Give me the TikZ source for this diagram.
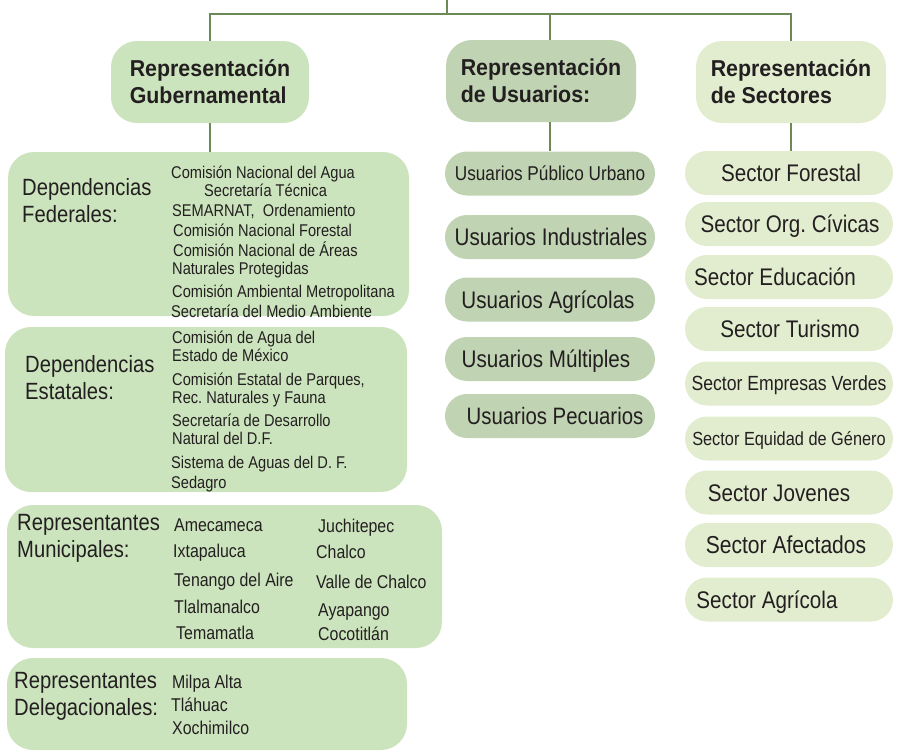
\documentclass[tikz,border=0pt]{standalone}
\usepackage{fontspec}
\setmainfont[FakeStretch=0.86]{Liberation Sans}
\newfontfamily\headfont[FakeStretch=0.93]{Liberation Sans}
\frenchspacing
\definecolor{gubgreen}{HTML}{CCE4BD}
\definecolor{usugreen}{HTML}{C0D3B3}
\definecolor{secgreen}{HTML}{E2EDD0}
\definecolor{linkgreen}{HTML}{6B8A55}
\definecolor{ink}{HTML}{231F20}

\begin{document}
\begin{tikzpicture}[x=1pt,y=-1pt,
  every node/.style={text=ink,inner sep=0pt},
  link/.style={draw=linkgreen,line width=2.7pt},
  headbox/.style={rounded corners=26pt,minimum width=190pt,minimum height=82pt,align=left,
    font=\headfont\bfseries\fontsize{23}{27}\selectfont},
  groupbox/.style={fill=gubgreen,rounded corners=26pt},
  grouplabel/.style={anchor=west,align=left,font=\fontsize{23.5}{27}\selectfont},
  item/.style={anchor=base west,font=\fontsize{17}{20}\selectfont},
  bigitem/.style={anchor=base west,font=\fontsize{18.5}{22}\selectfont},
  usupill/.style={fill=usugreen,rounded corners=22pt,minimum width=210pt,minimum height=44pt},
  secpill/.style={fill=secgreen,rounded corners=22pt,minimum width=208pt,minimum height=44pt}]
  \clip (0,0) rectangle (902,750);

  % heads
  \node[headbox,fill=gubgreen,minimum width=198pt] (gub) at (210,82) {Representación\\Gubernamental};
  \node[headbox,fill=usugreen] (usuhead) at (541,81) {Representación\\de Usuarios:};
  \node[headbox,fill=secgreen] (sechead) at (791,82) {Representación\\de Sectores};

  % gubernamental groups
  \node[groupbox,minimum width=401pt,minimum height=164pt] (fed) at (208.5,234) {};
  \node[groupbox,minimum width=402pt,minimum height=165pt] (est) at (206,409.5) {};
  \node[groupbox,minimum width=435pt,minimum height=143pt] (mun) at (224.5,576.5) {};
  \node[groupbox,minimum width=400pt,minimum height=92pt] (del) at (207,704) {};

  \node[grouplabel] (fedlabel) at (22,201) {Dependencias\\Federales:};
  \node[grouplabel] (estlabel) at (25,378) {Dependencias\\Estatales:};
  \node[grouplabel] (munlabel) at (17,538) {Representantes\\Municipales:};
  \node[grouplabel] (dellabel) at (14,696) {Representantes\\Delegacionales:};

  \foreach \x/\y/\t [count=\i] in {171/178/Comisión Nacional del Agua,204/196/Secretaría Técnica,
    {172/216/SEMARNAT,\ \ Ordenamiento},173/236/Comisión Nacional Forestal,
    173/256/Comisión Nacional de Áreas,172/274/Naturales Protegidas,
    172/297/Comisión Ambiental Metropolitana,171/317/Secretaría del Medio Ambiente}
    \node[item] (fed\i) at (\x,\y) {\t};
  \foreach \x/\y/\t [count=\i] in {172/343/Comisión de Agua del,172/361/Estado de México,
    {172/385/Comisión Estatal de Parques,},172/403/Rec. Naturales y Fauna,
    172/426/Secretaría de Desarrollo,172/444/Natural del D.F.,
    171/468/Sistema de Aguas del D. F.,171/488/Sedagro}
    \node[item] (est\i) at (\x,\y) {\t};
  \foreach \x/\y/\t [count=\i] in {174/531.5/Amecameca,173/557.5/Ixtapaluca,174/586.5/Tenango del Aire,
    174/613.5/Tlalmanalco,176/639.5/Temamatla,318/532.5/Juchitepec,316/558.5/Chalco,
    316/588.5/Valle de Chalco,318/616.5/Ayapango,318/640.5/Cocotitlán}
    \node[bigitem] (mun\i) at (\x,\y) {\t};
  \foreach \x/\y/\t [count=\i] in {172/688.5/Milpa Alta,171/711.5/Tláhuac,172/734.5/Xochimilco}
    \node[bigitem] (del\i) at (\x,\y) {\t};

  % usuarios
  \foreach \y/\t/\dx/\fs [count=\i] in {173.5/Usuarios Público Urbano/0/20,237/Usuarios Industriales/1/24,
    299.5/Usuarios Agrícolas/-2/24,359/Usuarios Múltiples/-4/24,416/Usuarios Pecuarios/5/23.7}
  {
    \node[usupill] (usu\i) at (550,\y) {};
    \node[anchor=base,font=\fontsize{\fs}{\fs}\selectfont] (usutext\i)
      at ([xshift=\dx pt,yshift=-0.36*\fs pt]usu\i.center) {\t};
  }

  % sectores
  \foreach \y/\t/\dx/\fs [count=\i] in {173/Sector Forestal/2/24,224/Sector Org. Cívicas/1/24,
    277/Sector Educación/-14/24,329/Sector Turismo/1/24,383.5/Sector Empresas Verdes/0/20.5,
    438.5/Sector Equidad de Género/0/19,492.5/Sector Jovenes/-10/24,545/Sector Afectados/-3/24.5,
    599.5/Sector Agrícola/-22/24}
  {
    \node[secpill] (sec\i) at (789,\y) {};
    \node[anchor=base,font=\fontsize{\fs}{\fs}\selectfont] (sectext\i)
      at ([xshift=\dx pt,yshift=-0.36*\fs pt]sec\i.center) {\t};
  }

  % connectors
  \coordinate (top) at (447,0);
  \coordinate (bus) at (447,14);
  \draw[link] (top) -- (bus);
  \draw[link] (gub.north) -- (gub.north |- bus) -| (sechead.north);
  \draw[link] (usu1.north |- bus) -- (usu1.north |- usuhead.north);
  \draw[link] (gub.south) -- (gub.south |- fed.north);
  \draw[link] (usuhead.south -| usu1.north) -- (usu1.north);
  \draw[link] (sechead.south) -- (sechead.south |- sec1.north);
\end{tikzpicture}
\end{document}
